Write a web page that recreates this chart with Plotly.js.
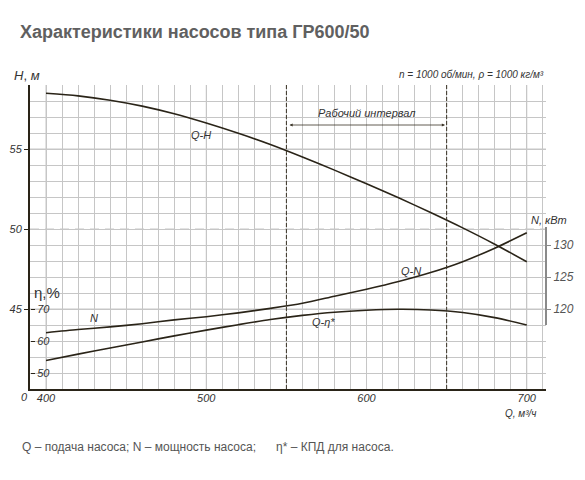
<!DOCTYPE html>
<html>
<head>
<meta charset="utf-8">
<script src="https://cdn.plot.ly/plotly-3.0.1.min.js"></script>
<style>
  html, body { margin: 0; padding: 0; background: #ffffff; }
  #chart { width: 585px; height: 480px; }
</style>
</head>
<body>
<div id="chart"></div>
<script>
// flow, m3/h
const flowQ = [400, 420, 440, 460, 480, 500, 520, 540, 560, 580, 600, 620, 640, 660, 680, 700];
// head H, m
const headH = [58.48, 58.32, 58.05, 57.68, 57.2, 56.62, 55.98, 55.28, 54.5, 53.68, 52.83, 51.95, 51.03, 50.07, 49.05, 47.95];
// power N, kW
const powerN = [116.3, 116.8, 117.2, 117.7, 118.3, 118.8, 119.4, 120.1, 120.9, 122.0, 123.1, 124.3, 125.7, 127.4, 129.5, 131.9];
// efficiency, %
const effEta = [53.9, 55.9, 57.8, 59.7, 61.6, 63.4, 65.1, 66.7, 68.0, 69.0, 69.6, 69.9, 69.7, 68.9, 67.3, 65.0];

const xTicks = [400, 500, 600, 700];
const hTicks = [45, 50, 55];
const nTicks = [120, 125, 130];
const etaTicks = [50, 60, 70];
const workStart = 550;
const workEnd = 650;

const curveColor = '#2a2418';
const gridColor = '#c6c6c6';
const textColor = '#333333';
const fontFamily = 'Liberation Sans, Arial, sans-serif';
const italicFont = {family: fontFamily, size: 11, color: textColor, style: 'italic'};

const curve = (y, yaxis) => ({
    x: flowQ,
    y: y,
    yaxis: yaxis,
    type: 'scatter',
    mode: 'lines',
    line: {color: curveColor, width: 1.6, shape: 'spline', smoothing: 0.8},
    hoverinfo: 'skip',
    showlegend: false,
});

const data = [curve(headH, 'y'), curve(powerN, 'y2'), curve(effEta, 'y3')];

const label = (text, x, y, extra) => Object.assign({
    text: text, x: x, y: y, xref: 'x', yref: 'y',
    showarrow: false, font: italicFont,
}, extra || {});

const paperLabel = (text, x, y, extra) => Object.assign({
    text: text, x: x, y: y, xref: 'paper', yref: 'paper',
    xanchor: 'center', yanchor: 'middle',
    showarrow: false, font: italicFont,
}, extra || {});

// grid lines on major positions (600 and H=50 are dashed in the original)
const shapes = [];
xTicks.forEach(q => shapes.push({
    type: 'line', xref: 'x', yref: 'paper', x0: q, x1: q, y0: 0, y1: 1, layer: 'below',
    line: {color: gridColor, width: 1, dash: q === 600 ? '6px,4px' : 'solid'},
}));
hTicks.forEach(h => shapes.push({
    type: 'line', xref: 'paper', yref: 'y', x0: 0, x1: 1, y0: h, y1: h, layer: 'below',
    line: {color: gridColor, width: 1, dash: h === 50 ? '9px,6px' : 'solid'},
}));
[workStart, workEnd].forEach(q => shapes.push({
    type: 'line', xref: 'x', yref: 'paper', x0: q, x1: q, y0: 0, y1: 1,
    line: {color: '#3a3326', width: 1, dash: '4px,2px'},
}));
// short right axis line for N
shapes.push({
    type: 'line', xref: 'paper', yref: 'y2', x0: 1, x1: 1, y0: 117.5, y1: 132.8,
    line: {color: '#8a8a8a', width: 2},
});

const annotations = [
    label('Q-H', 497, 55.9),
    label('Q-N', 628, 47.4),
    label('N', 430, 44.45),
    label('Q-η*', 573, 44.2),
    label('Рабочий интервал', 600, 57.25),
    {
        x: workEnd - 1, y: 56.5, ax: workStart + 1, ay: 56.5,
        xref: 'x', yref: 'y', axref: 'x', ayref: 'y',
        text: '', showarrow: true, arrowside: 'end+start',
        arrowhead: 2, arrowsize: 0.8, arrowwidth: 0.8, arrowcolor: '#3a3326',
    },
    paperLabel('η,%', 0.033, 0.316, {font: {family: fontFamily, size: 15, color: textColor}}),
    paperLabel('<i>H</i>, <i>м</i>', -0.005, 1.03, {font: {family: fontFamily, size: 13, color: textColor}}),
    paperLabel('0', -0.01, -0.027),
    paperLabel('N, кВт', 1.005, 0.556),
    paperLabel('n = 1000 об/мин, ρ = 1000 кг/м³', 1.0, 1.036, {xanchor: 'right', font: Object.assign({}, italicFont, {size: 10})}),
    paperLabel('Q, м³/ч', 0.985, -0.08, {xanchor: 'right', font: Object.assign({}, italicFont, {size: 10})}),
    paperLabel('Q – подача насоса; N – мощность насоса;\u00a0\u00a0\u00a0\u00a0\u00a0 η* – КПД для насоса.',
        -0.02, -0.19, {xanchor: 'left', font: {family: fontFamily, size: 12, color: '#555555'}}),
];

const layout = {
    width: 585,
    height: 480,
    title: {
        text: '<b>Характеристики насосов типа ГР600/50</b>',
        x: 0.034, xanchor: 'left', xref: 'container',
        y: 0.933, yanchor: 'middle', yref: 'container',
        font: {family: fontFamily, size: 18, color: '#606060'},
    },
    xaxis: {
        range: [390, 712],
        tickvals: xTicks,
        ticks: '',
        ticklabelstandoff: -2,
        showgrid: false,
        zeroline: false,
        showline: true,
        linecolor: curveColor,
        linewidth: 2,
        tickfont: italicFont,
        minor: {dtick: 10, tick0: 0, showgrid: true, gridcolor: gridColor, gridwidth: 1, ticks: ''},
    },
    yaxis: {
        range: [40, 59],
        tickvals: hTicks,
        ticks: 'outside',
        ticklen: 4,
        tickcolor: curveColor,
        showgrid: false,
        zeroline: false,
        showline: true,
        linecolor: curveColor,
        linewidth: 2,
        tickfont: italicFont,
        minor: {dtick: 1, tick0: 0, showgrid: true, gridcolor: gridColor, gridwidth: 1, ticks: ''},
    },
    yaxis2: {
        range: [107.5, 155],
        overlaying: 'y',
        side: 'right',
        tickvals: nTicks,
        ticks: 'outside',
        ticklen: 4,
        tickcolor: '#8a8a8a',
        showgrid: false,
        zeroline: false,
        showline: false,
        tickfont: Object.assign({}, italicFont, {size: 12, color: '#555555'}),
    },
    yaxis3: {
        range: [45, 140],
        overlaying: 'y',
        anchor: 'free',
        position: 0,
        side: 'right',
        tickvals: etaTicks,
        ticks: 'outside',
        ticklen: 4,
        tickcolor: curveColor,
        showgrid: false,
        zeroline: false,
        showline: false,
        tickfont: italicFont,
    },
    shapes: shapes,
    annotations: annotations,
    plot_bgcolor: '#ffffff',
    paper_bgcolor: '#ffffff',
    margin: {l: 30, r: 39, t: 85, b: 91, pad: 0},
    showlegend: false,
};

Plotly.newPlot('chart', data, layout, {displayModeBar: false, staticPlot: true});
</script>
</body>
</html>
